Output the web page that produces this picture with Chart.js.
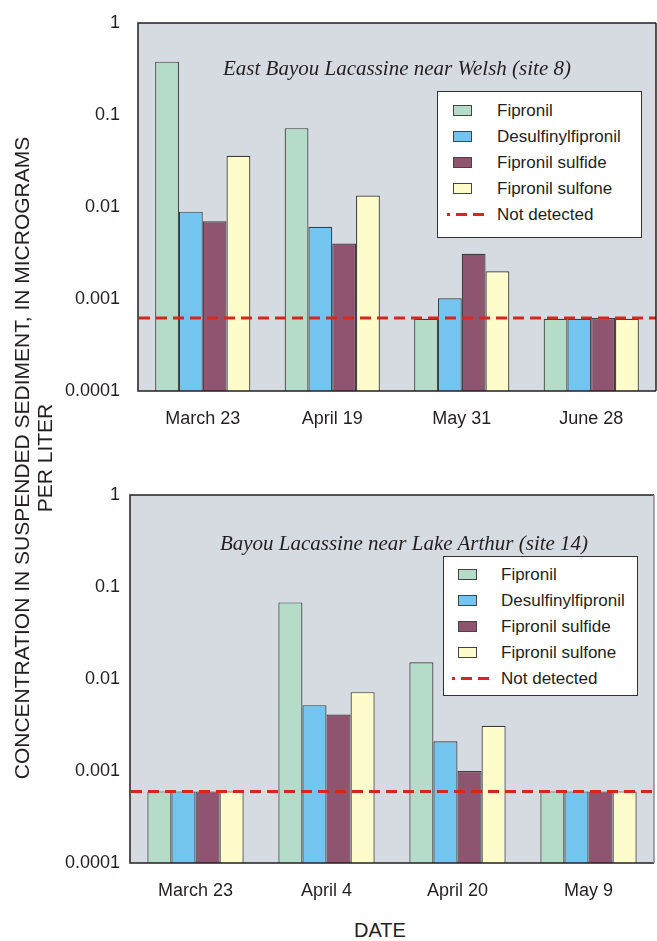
<!DOCTYPE html>
<html>
<head>
<meta charset="utf-8">
<script src="https://cdn.jsdelivr.net/npm/chart.js@4/dist/chart.umd.min.js"></script>
<style>
  html, body { margin: 0; padding: 0; background: #fff; }
  #wrap { position: relative; width: 657px; height: 941px; overflow: hidden; font-family: "Liberation Sans", Arial, sans-serif; color: #231f20; }
  canvas { position: absolute; left: 0; }
  .site { position: absolute; font-family: "Liberation Serif", "Times New Roman", serif; font-style: italic; font-size: 21px; white-space: nowrap; transform: translate(-50%, -50%); }
  .legend { position: absolute; background: #fff; border: 1.5px solid #333; box-sizing: border-box; }
  .legend .row { position: absolute; left: 0; height: 20px; font-size: 17px; line-height: 20px; white-space: nowrap; }
  .legend .sw { position: absolute; width: 19px; height: 11px; border: 1.5px solid #444; box-sizing: border-box; top: 4px; }
  .legend .dash { position: absolute; top: 8px; height: 3px; }
  .legend .lbl { position: absolute; top: 0; }
  #ytitle { position: absolute; left: 33px; top: 458px; width: 720px; text-align: center; font-size: 21px; line-height: 23px; white-space: nowrap; transform: translate(-50%, -50%) rotate(-90deg); }
  #xtitle { position: absolute; left: 380px; top: 930px; font-size: 20px; transform: translate(-50%, -50%); }
</style>
</head>
<body>
<div id="wrap">
  <canvas id="c1" width="657" height="440" style="top:0px"></canvas>
  <canvas id="c2" width="657" height="440" style="top:472px"></canvas>
  <div class="site" style="left:397px; top:68px">East Bayou Lacassine near Welsh (site 8)</div>
  <div class="site" style="left:404px; top:543px">Bayou Lacassine near Lake Arthur (site 14)</div>
  <div class="legend" id="leg1" style="left:437px; top:91px; width:205px; height:147px"></div>
  <div class="legend" id="leg2" style="left:443px; top:556px; width:195px; height:140px"></div>
  <div id="ytitle">CONCENTRATION IN SUSPENDED SEDIMENT, IN MICROGRAMS<br>PER LITER</div>
  <div id="xtitle">DATE</div>
</div>
<script>
// data (micrograms per liter, log scale)
const dates1 = ['March 23', 'April 19', 'May 31', 'June 28'];
const dates2 = ['March 23', 'April 4', 'April 20', 'May 9'];
const seriesNames = ['Fipronil', 'Desulfinylfipronil', 'Fipronil sulfide', 'Fipronil sulfone'];
const ndLabel = 'Not detected';

const fipronil1 = [0.38, 0.072, 0.00061, 0.00061];
const desulfinyl1 = [0.0089, 0.0061, 0.00102, 0.00061];
const sulfide1 = [0.0070, 0.0040, 0.0031, 0.00062];
const sulfone1 = [0.036, 0.0133, 0.0020, 0.00061];
const notDetected1 = 0.00062;

const fipronil2 = [0.0006, 0.068, 0.0152, 0.0006];
const desulfinyl2 = [0.0006, 0.0052, 0.0021, 0.0006];
const sulfide2 = [0.0006, 0.0041, 0.0010, 0.0006];
const sulfone2 = [0.0006, 0.0072, 0.0031, 0.0006];
const notDetected2 = 0.0006;

const yTicks = [0.0001, 0.001, 0.01, 0.1, 1];
const yTickLabels = ['0.0001', '0.001', '0.01', '0.1', '1'];

const colors = ['#b5dcc8', '#73c4ee', '#8f5470', '#fefccb'];
const ndColor = '#d9261c';

// fond gris + cadre + ligne "non détecté"
const plotDeco = {
  id: 'plotDeco',
  beforeDatasetsDraw(chart) {
    const a = chart.chartArea, ctx = chart.ctx;
    ctx.save();
    ctx.fillStyle = '#d6dbe2';
    ctx.fillRect(a.left, a.top, a.right - a.left, a.bottom - a.top);
    ctx.restore();
  },
  afterDatasetsDraw(chart, args, opts) {
    const a = chart.chartArea, ctx = chart.ctx;
    const y = chart.scales.y.getPixelForValue(opts.nd);
    ctx.save();
    ctx.strokeStyle = ndColor;
    ctx.lineWidth = 3;
    ctx.setLineDash([11, 6]);
    ctx.beginPath();
    ctx.moveTo(a.left + 1, y);
    ctx.lineTo(a.right, y);
    ctx.stroke();
    ctx.setLineDash([]);
    ctx.lineWidth = 1.5;
    ctx.strokeStyle = '#231f20';
    ctx.beginPath();
    ctx.moveTo(a.right, a.top);
    ctx.lineTo(a.left, a.top);
    ctx.lineTo(a.left, a.bottom);
    ctx.lineTo(a.right, a.bottom);
    ctx.stroke();
    ctx.strokeStyle = opts.rightColor;
    ctx.beginPath();
    ctx.moveTo(a.right, a.top);
    ctx.lineTo(a.right, a.bottom);
    ctx.stroke();
    ctx.restore();
  }
};

function makeChart(id, labels, series, nd, leftWidth, yPad, rightPad, rightColor) {
  return new Chart(document.getElementById(id).getContext('2d'), {
    type: 'bar',
    data: {
      labels: labels,
      datasets: series.map((d, i) => ({
        label: seriesNames[i],
        data: d,
        backgroundColor: colors[i],
        borderColor: '#3c3c3c',
        borderWidth: 1.2,
        categoryPercentage: 0.735,
        barPercentage: 1.0
      }))
    },
    options: {
      responsive: false,
      animation: false,
      layout: { padding: { top: 23, right: rightPad, bottom: 0, left: 0 } },
      plugins: {
        legend: { display: false },
        tooltip: { enabled: false },
        plotDeco: { nd: nd, rightColor: rightColor }
      },
      scales: {
        x: {
          grid: { display: false, drawTicks: false },
          border: { display: false },
          ticks: { color: '#231f20', font: { family: 'Liberation Sans', size: 18 }, padding: 17, maxRotation: 0 },
          afterFit(s) { s.height = 49; s.paddingLeft = 0; s.paddingRight = 0; }
        },
        y: {
          type: 'logarithmic',
          min: 0.0001,
          max: 1,
          grid: { display: false, drawTicks: false },
          border: { display: false },
          afterBuildTicks(s) { s.ticks = yTicks.map(v => ({ value: v })); },
          ticks: {
            color: '#231f20',
            font: { family: 'Liberation Sans', size: 18 },
            padding: yPad,
            callback: (v) => yTickLabels[yTicks.indexOf(v)]
          },
          afterFit(s) { s.width = leftWidth; s.paddingTop = 0; s.paddingBottom = 0; }
        }
      }
    },
    plugins: [plotDeco]
  });
}

function makeLegend(id, rowTops, swLeft, lblLeft) {
  const box = document.getElementById(id);
  seriesNames.concat([ndLabel]).forEach((name, i) => {
    const row = document.createElement('div');
    row.className = 'row';
    row.style.top = rowTops[i] + 'px';
    row.style.width = '100%';
    if (i < seriesNames.length) {
      const sw = document.createElement('div');
      sw.className = 'sw';
      sw.style.left = swLeft + 'px';
      sw.style.background = colors[i];
      row.appendChild(sw);
    } else {
      const dot = document.createElement('div');
      dot.className = 'dash';
      dot.style.left = (swLeft - 6) + 'px';
      dot.style.width = '3px';
      dot.style.background = ndColor;
      row.appendChild(dot);
      [0, 1].forEach(k => {
        const d = document.createElement('div');
        d.className = 'dash';
        d.style.left = (swLeft + 3 + k * 17) + 'px';
        d.style.width = '11px';
        d.style.background = ndColor;
        row.appendChild(d);
      });
    }
    const lbl = document.createElement('div');
    lbl.className = 'lbl';
    lbl.style.left = lblLeft + 'px';
    lbl.textContent = name;
    row.appendChild(lbl);
    box.appendChild(row);
  });
}

try {
  makeChart('c1', dates1, [fipronil1, desulfinyl1, sulfide1, sulfone1], notDetected1, 138, 18, 1, '#231f20');
  makeChart('c2', dates2, [fipronil2, desulfinyl2, sulfide2, sulfone2], notDetected2, 130, 10, 3, '#8a8a8a');
  makeLegend('leg1', [9, 35, 61, 87, 113], 15, 59);
  makeLegend('leg2', [8, 34, 60, 86, 112], 14, 57);
} catch (e) {
  console.error('chart init failed', e);
}
</script>
</body>
</html>
